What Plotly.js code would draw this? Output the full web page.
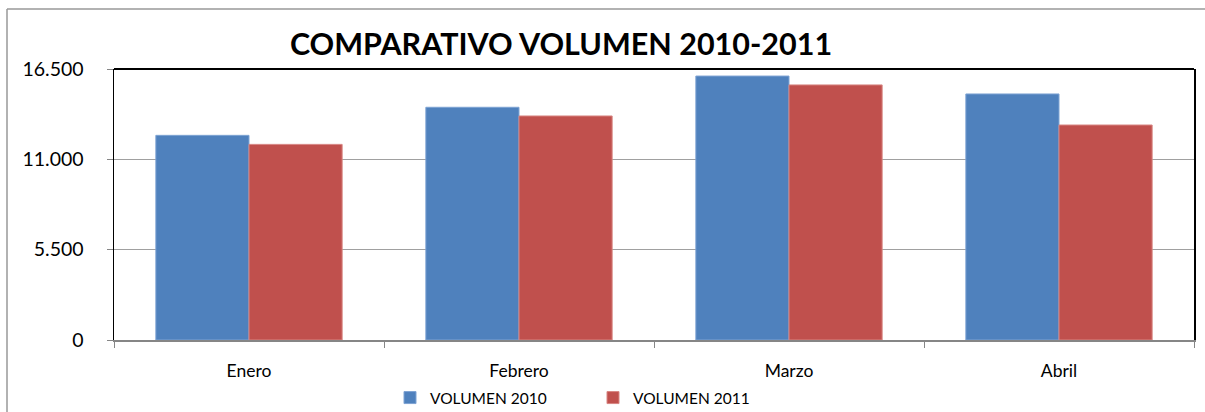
<!DOCTYPE html>
<html>
<head>
<meta charset="utf-8">
<script src="https://cdn.plot.ly/plotly-3.0.1.min.js"></script>
<style>html,body{margin:0;padding:0;background:#fff;}#chart{width:1205px;height:412px;}</style>
</head>
<body>
<div id="chart"></div>
<script>
const categories = ["Enero", "Febrero", "Marzo", "Abril"];
const volumen2010 = [12460, 14170, 16070, 14980];
const volumen2011 = [11910, 13640, 15530, 13090];
const yTicks = [0, 5500, 11000, 16500];
const seriesNames = ["VOLUMEN 2010", "VOLUMEN 2011"];

const font = "Lato, 'Open Sans', sans-serif";
const traces = [
  {type: "bar", name: seriesNames[0], x: categories, y: volumen2010,
   marker: {color: "#4F81BD", line: {color: "#7EA3D3", width: 1}}},
  {type: "bar", name: seriesNames[1], x: categories, y: volumen2011,
   marker: {color: "#C0504D", line: {color: "#D88683", width: 1}}}
];
const layout = {
  width: 1205, height: 412,
  margin: {l: 114, r: 11, t: 69, b: 72, autoexpand: false},
  paper_bgcolor: "#fff", plot_bgcolor: "#fff",
  separators: ",.",
  barmode: "group", bargap: 0.31, bargroupgap: 0,
  showlegend: true,
  font: {family: font, size: 15, color: "#000"},
  title: {text: "<b>COMPARATIVO VOLUMEN 2010-2011</b>", font: {family: font, size: 30.5, color: "#000"},
          x: 561/1205, xanchor: "center", xref: "container", y: 1 - 44/412, yanchor: "middle", yref: "container"},
  xaxis: {showline: true, linecolor: "#868686", linewidth: 2, ticks: "outside", tickson: "boundaries",
          ticklen: 6, tickcolor: "#868686", tickwidth: 1, showgrid: false, fixedrange: true,
          ticklabelstandoff: 14,
          tickfont: {family: font, size: 17.5, color: "#000"}},
  yaxis: {range: [0, 16500], tickvals: yTicks, tickformat: ",d", showline: true, linecolor: "#000",
          linewidth: 1.5, mirror: true, ticks: "outside", ticklen: 6, tickcolor: "#868686",
          ticklabelstandoff: 19,
          showgrid: true, gridcolor: "#a0a0a0", gridwidth: 1.5, zeroline: false,
          tickfont: {family: font, size: 19.5, color: "#000"}},
  legend: {orientation: "h", x: (390-114)/1080, xanchor: "left", y: (340-381)/271, yanchor: "top",
           font: {family: font, size: 15.5, color: "#000"}, itemwidth: 30, traceorder: "normal",
           entrywidth: 158, entrywidthmode: "pixels"},
  shapes: [
    {type: "line", xref: "paper", yref: "paper", x0: 0, x1: 1, y0: 1, y1: 1, line: {color: "#000", width: 2}},
    {type: "line", xref: "paper", yref: "paper", x0: (7-114)/1080, x1: (7-114)/1080, y0: (340-9)/271, y1: (340-415)/271, line: {color: "#999", width: 1.5}},
    {type: "line", xref: "paper", yref: "paper", x0: (7-114)/1080, x1: (1210-114)/1080, y0: (340-9)/271, y1: (340-9)/271, line: {color: "#999", width: 1.5}}
  ]
};
Plotly.newPlot("chart", traces, layout, {displayModeBar: false, staticPlot: true});
</script>
</body>
</html>
